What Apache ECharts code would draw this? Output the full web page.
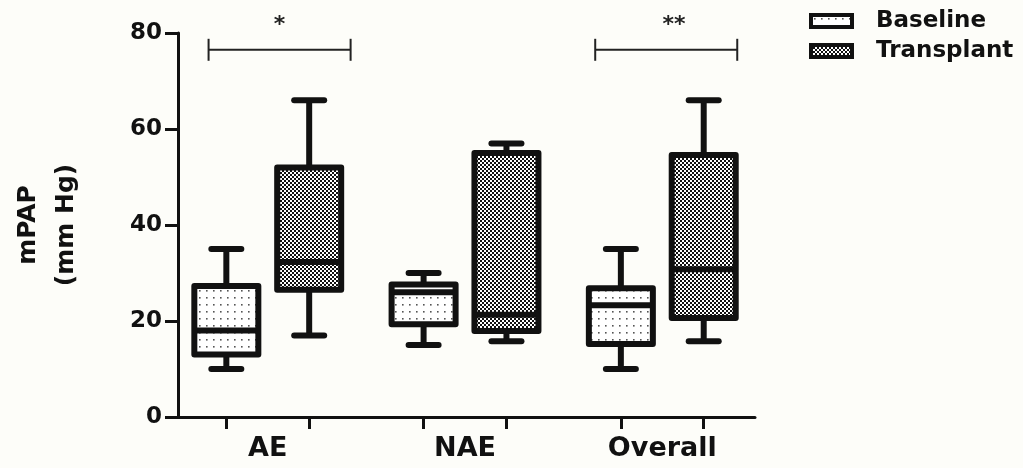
<!DOCTYPE html>
<html><head><meta charset="utf-8">
<script src="https://cdn.jsdelivr.net/npm/echarts@6/dist/echarts.min.js"></script>
<style>html,body{margin:0;padding:0;background:#fdfdf9}#c{width:1023px;height:468px}</style>
</head><body><div id="c"></div>
<script>
// ---- data ----
const categories = ['AE', 'NAE', 'Overall'];
const seriesNames = ['Baseline', 'Transplant'];
// each box: [min, Q1, median, Q3, max]
const baselineBoxes = [
  [10, 13, 18, 27.3, 35],
  [15, 19.3, 26, 27.6, 30],
  [10, 15.2, 23.3, 26.8, 35]
];
const transplantBoxes = [
  [17, 26.5, 32.3, 52, 66],
  [15.8, 17.9, 21.3, 55, 57],
  [15.8, 20.6, 30.8, 54.6, 66]
];
const yTickValues = [0, 20, 40, 60, 80];
const bracketFrom = [0.70, 2.66];
const bracketTo = [1.42, 3.38];
const bracketLevel = [76.5, 76.5];
const bracketLabelX = [1.06, 3.06];
const bracketLabels = ['*', '**'];

// ---- styling / layout ----
const INK = '#111';
const FONT = 'DejaVu Sans';
const OFFSET = 0.21;

function makePattern(kind) {
  const c = document.createElement('canvas');
  const g = c.getContext('2d');
  if (kind === 'sparse') {
    c.width = 7; c.height = 7;
    g.fillStyle = '#ffffff'; g.fillRect(0, 0, 7, 7);
    g.fillStyle = '#555'; g.fillRect(3, 3, 1.6, 1.6);
  } else {
    c.width = 4; c.height = 4;
    g.fillStyle = '#ffffff'; g.fillRect(0, 0, 4, 4);
    g.fillStyle = '#111'; g.fillRect(0, 0, 2, 2); g.fillRect(2, 2, 2, 2);
  }
  return { image: c, repeat: 'repeat' };
}
const patBase = makePattern('sparse');
const patTrans = makePattern('dense');

function toItems(boxes, shift) {
  return boxes.map((b, i) => [i + 1 + shift].concat(b));
}
const tickPositions = [];
categories.forEach((c, i) => { tickPositions.push(i + 1 - OFFSET, i + 1 + OFFSET); });

function boxRenderer(fill) {
  return function (params, api) {
    const x = api.value(0);
    const pLo = api.coord([x, api.value(1)]);
    const pQ1 = api.coord([x, api.value(2)]);
    const pMd = api.coord([x, api.value(3)]);
    const pQ3 = api.coord([x, api.value(4)]);
    const pHi = api.coord([x, api.value(5)]);
    const cx = pLo[0];
    const hw = 32, cw = 15;
    const line = (x1, y1, x2, y2, w, cap) => ({
      type: 'line', shape: { x1, y1, x2, y2 },
      style: { stroke: INK, lineWidth: w, lineCap: cap || 'butt' }
    });
    const rectShape = { x: cx - hw, y: pQ3[1], width: 2 * hw, height: pQ1[1] - pQ3[1] };
    return {
      type: 'group',
      children: [
        line(cx, pHi[1], cx, pQ3[1], 6),
        line(cx, pQ1[1], cx, pLo[1], 6),
        line(cx - cw, pHi[1], cx + cw, pHi[1], 6, 'round'),
        line(cx - cw, pLo[1], cx + cw, pLo[1], 6, 'round'),
        { type: 'rect', shape: rectShape, style: { fill: fill, stroke: null } },
        line(cx - hw, pMd[1], cx + hw, pMd[1], 6),
        { type: 'rect', shape: rectShape, style: { fill: null, stroke: INK, lineWidth: 6, lineJoin: 'round' } }
      ]
    };
  };
}

function bracketRenderer(params, api) {
  const y = api.value(2);
  const p1 = api.coord([api.value(0), y]);
  const p2 = api.coord([api.value(1), y]);
  const pl = api.coord([api.value(3), y]);
  const st = { stroke: '#222', lineWidth: 2 };
  return {
    type: 'group',
    children: [
      { type: 'line', shape: { x1: p1[0], y1: p1[1], x2: p2[0], y2: p2[1] }, style: st },
      { type: 'line', shape: { x1: p1[0], y1: p1[1] - 11, x2: p1[0], y2: p1[1] + 11 }, style: st },
      { type: 'line', shape: { x1: p2[0], y1: p2[1] - 11, x2: p2[0], y2: p2[1] + 11 }, style: st },
      { type: 'text', x: pl[0], y: pl[1] - 25,
        style: { text: bracketLabels[params.dataIndex], fill: '#222', font: 'bold 22px "DejaVu Sans"', align: 'center', verticalAlign: 'middle' } }
    ]
  };
}

const chart = echarts.init(document.getElementById('c'), null, { renderer: 'canvas' });
chart.setOption({
  backgroundColor: '#fdfdf9',
  animation: false,
  grid: { left: 178, right: 268, top: 33, bottom: 51, containLabel: false, outerBoundsMode: 'none' },
  legend: {
    orient: 'vertical', left: 804, top: 4, itemWidth: 41, itemHeight: 12, itemGap: 6,
    selectedMode: false,
    textStyle: { fontFamily: FONT, fontSize: 23, fontWeight: 'bold', color: INK, lineHeight: 24, padding: [0, 0, 0, 19] },
    data: [
      { name: seriesNames[0], icon: 'rect', itemStyle: { color: patBase, borderColor: INK, borderWidth: 4 } },
      { name: seriesNames[1], icon: 'rect', itemStyle: { color: patTrans, borderColor: INK, borderWidth: 4 } }
    ]
  },
  xAxis: {
    type: 'value', min: 0.545, max: 3.47,
    axisLine: { show: true, onZero: false, lineStyle: { color: INK, width: 3 } },
    axisTick: { show: true, length: 12, customValues: tickPositions, lineStyle: { color: INK, width: 3 } },
    axisLabel: {
      customValues: [1, 2, 3],
      formatter: v => categories[Math.round(v) - 1],
      fontFamily: FONT, fontSize: 27, fontWeight: 'bold', color: INK, margin: 18
    },
    splitLine: { show: false }
  },
  yAxis: {
    type: 'value', min: yTickValues[0], max: yTickValues[yTickValues.length - 1], interval: 20,
    name: 'mPAP\n(mm Hg)', nameLocation: 'middle', nameRotate: 90, nameGap: 93,
    nameTextStyle: { fontFamily: FONT, fontSize: 25, fontWeight: 'bold', color: INK, lineHeight: 38 },
    axisLine: { show: true, onZero: false, lineStyle: { color: INK, width: 3 } },
    axisTick: { show: true, length: 13, lineStyle: { color: INK, width: 3 } },
    axisLabel: { fontFamily: FONT, fontSize: 23, fontWeight: 'bold', color: INK, margin: 16 },
    splitLine: { show: false }
  },
  series: [
    {
      name: seriesNames[0], type: 'custom', renderItem: boxRenderer(patBase),
      itemStyle: { color: patBase, borderColor: INK, borderWidth: 4 },
      encode: { x: 0, y: [1, 2, 3, 4, 5] },
      data: toItems(baselineBoxes, -OFFSET)
    },
    {
      name: seriesNames[1], type: 'custom', renderItem: boxRenderer(patTrans),
      itemStyle: { color: patTrans, borderColor: INK, borderWidth: 4 },
      encode: { x: 0, y: [1, 2, 3, 4, 5] },
      data: toItems(transplantBoxes, OFFSET)
    },
    {
      name: 'significance', type: 'custom', renderItem: bracketRenderer, silent: true,
      encode: { x: [0, 1, 3], y: 2 },
      data: bracketFrom.map((f, i) => [f, bracketTo[i], bracketLevel[i], bracketLabelX[i]])
    }
  ]
});
</script>
</body></html>
